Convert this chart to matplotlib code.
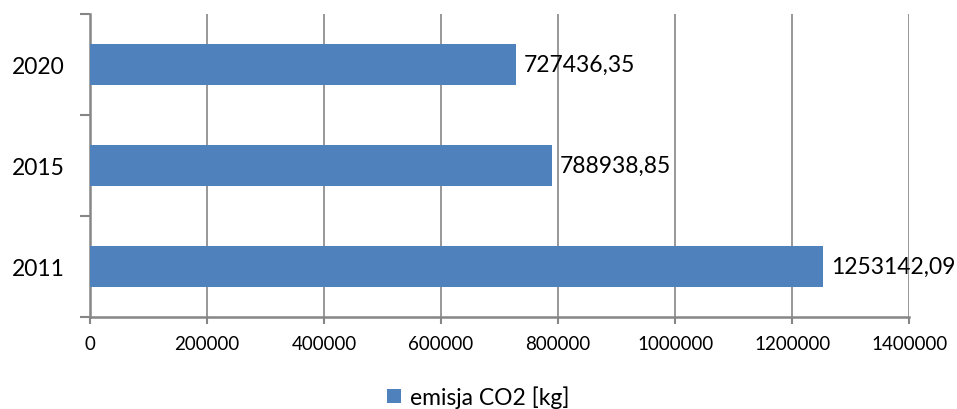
import matplotlib
matplotlib.use("Agg")
import matplotlib.pyplot as plt
import numpy as np

categories = ["2011", "2015", "2020"]
values = [1253142.09, 788938.85, 727436.35]
labels = ["1253142,09", "788938,85", "727436,35"]
xticks = [0, 200000, 400000, 600000, 800000, 1000000, 1200000, 1400000]
series_name = "emisja CO2 [kg]"

plt.rcParams['font.family'] = ['Lato', 'DejaVu Sans']

fig = plt.figure(figsize=(9.57, 4.10), dpi=100)
ax = fig.add_axes([0.094, 0.2244, 0.856, 0.739])

gray = "#868686"
y = np.arange(len(categories))
bars = ax.barh(y, values, height=0.4, color="#4F81BD", zorder=3, label=series_name)

for yi, v, lab in zip(y, values, labels):
    ax.annotate(lab, xy=(v, yi), xytext=(6, 0), textcoords="offset points",
                va="center", ha="left", fontsize=16.5, color="black", zorder=4)

ax.set_xlim(0, 1400000)
ax.set_ylim(-0.5, 2.5)
ax.set_xticks(xticks)
ax.set_xticklabels([str(t) for t in xticks], fontsize=13.5)
ax.set_yticks([-0.5, 0.5, 1.5, 2.5])
ax.set_yticklabels([])
ax.set_yticks(y, minor=True)
ax.set_yticklabels(categories, minor=True, fontsize=16.5)
ax.tick_params(axis="y", which="minor", length=0, pad=18)
ax.tick_params(axis="y", which="major", length=7, color=gray, width=1.5)
ax.tick_params(axis="x", which="major", length=5, color=gray, width=1.5, pad=8)

ax.grid(axis="x", color=gray, linewidth=1.2, zorder=0)
for s in ["top", "right"]:
    ax.spines[s].set_visible(False)
for s in ["left", "bottom"]:
    ax.spines[s].set_color(gray)
    ax.spines[s].set_linewidth(1.8)

fig.legend(handles=[bars], labels=[series_name], loc="center", bbox_to_anchor=(0.5, 0.03),
           frameon=False, fontsize=16.5, handlelength=0.6, handleheight=0.6, handletextpad=0.4)

fig.savefig("out.png", dpi=100)
